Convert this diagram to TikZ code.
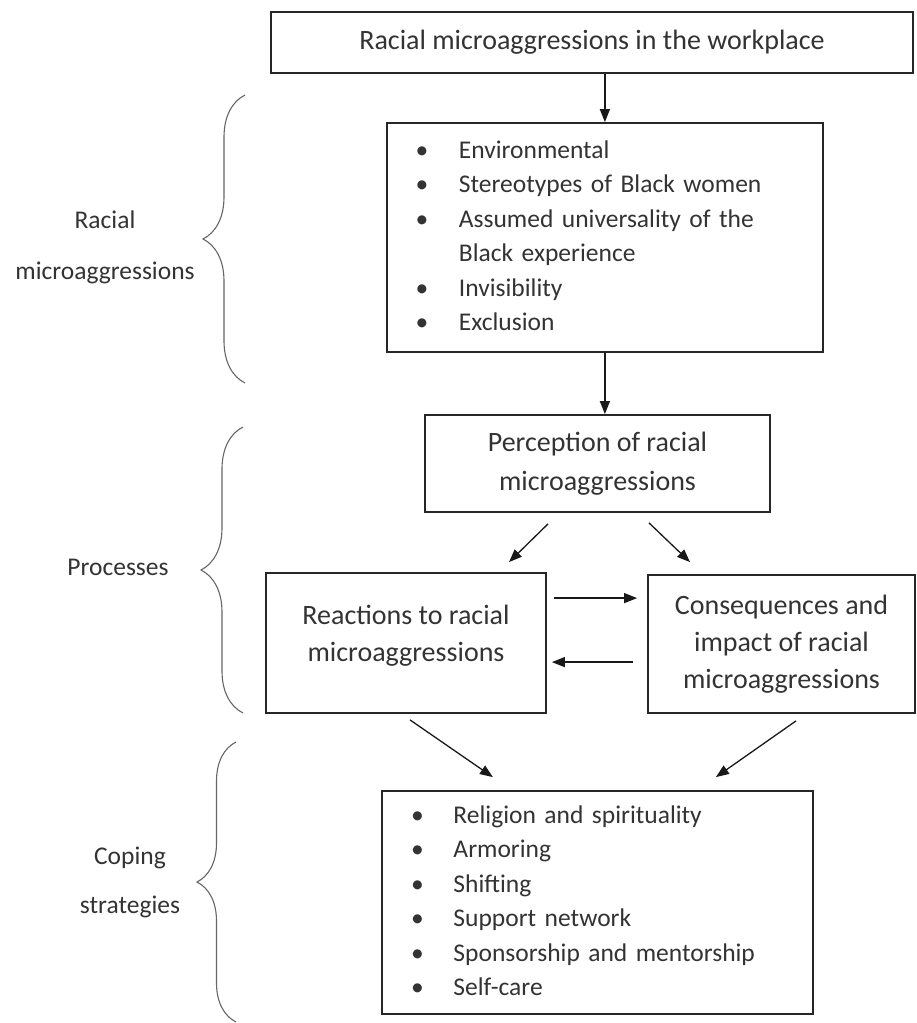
\documentclass[tikz,border=0pt]{standalone}
\usepackage{fontspec}
\setmainfont{Carlito}
\usepackage{array}
\usetikzlibrary{calc,arrows.meta,decorations.pathreplacing}

\begin{document}
\begin{tikzpicture}[x=1pt,y=-1pt,
		box/.style={draw=black!85, line width=1.8pt, text=black!80, inner sep=0pt},
		listbox/.style={box, anchor=west, align=left, font=\fontsize{25.5}{34.5}\selectfont},
		arr/.style={-{Triangle[length=13pt,width=10pt]}, line width=1.3pt, black!90},
		brc/.style={decorate, decoration={brace, amplitude=#1}, draw=black!60, line width=1.1pt},
		lbl/.style={text=black!80, align=center, font=\fontsize{25.5}{51}\selectfont}]
			\useasboundingbox (0,0) rectangle (916,1023);
			% boxes
			\node[box, minimum width=642pt, minimum height=61pt, font=\fontsize{28}{34}\selectfont] (title) at (592,42.5)
			{Racial microaggressions in the workplace};
			\node[listbox, minimum height=229pt, inner xsep=28.6pt, text width=378.8pt] (types) at (386,237.5)
			{
				\begin{tabular}{@{}p{43.4pt}@{}l@{}}
					\textbullet & Environmental \\
					\textbullet & Stereotypes of Black women \\
					\textbullet & Assumed universality of the \\
					& Black experience \\
					\textbullet & Invisibility \\
					\textbullet & Exclusion \\
				\end{tabular}
			};
			\node[box, minimum width=345pt, minimum height=97pt, align=center, font=\fontsize{28}{39}\selectfont] (percep) at (597.5,463.5)
			{Perception of racial\\microaggressions};
			\node[box, minimum width=280pt, minimum height=140pt, align=center, text depth=20pt, font=\fontsize{28}{37}\selectfont] (react) at (406,643)
			{Reactions to racial\\microaggressions};
			\node[box, minimum width=267pt, minimum height=138pt, align=center, font=\fontsize{28}{37}\selectfont] (conseq) at (781.5,644)
			{Consequences and\\impact of racial\\microaggressions};
			\node[listbox, minimum height=223pt, inner xsep=29.1pt, text width=372.8pt] (cope) at (381,902.5)
			{
				\begin{tabular}{@{}p{42.5pt}@{}l@{}}
					\textbullet & Religion and spirituality \\
					\textbullet & Armoring \\
					\textbullet & Shifting \\
					\textbullet & Support network \\
					\textbullet & Sponsorship and mentorship \\
					\textbullet & Self-care \\
				\end{tabular}
			};
			% side labels and braces
			\node[lbl] (lblracial) at (105,247) {Racial\\microaggressions};
			\node[lbl] (lblproc) at (118,567) {Processes};
			\node[lbl, font=\fontsize{25.5}{49}\selectfont] (lblcope) at (130,882) {Coping\\strategies};
			\draw[brc=42pt] (245,383) -- (245,95);
			\draw[brc=42pt] (243,713) -- (243,427);
			\draw[brc=39pt] (236,1022) -- (236,742);
			% arrows
			\draw[arr] (types.north |- title.south) -- (types.north);
			\draw[arr] (types.south) -- (types.south |- percep.north);
			\draw[arr] ($(percep.south)+(-49.5,11)$) -- ($(react.north)+(103,-10)$);
			\draw[arr] ($(percep.south)+(51.5,10)$) -- ($(conseq.north)+(-91.5,-12)$);
			\draw[arr] ($(react.north east)+(7,26)$) -- ($(conseq.north west)+(-10,24)$);
			\draw[arr] ($(conseq.north west)+(-14,88)$) -- ($(react.north east)+(5,90)$);
			\draw[arr] ($(react.south)+(4,6)$) -- ($(cope.north)+(-104.5,-13)$);
			\draw[arr] ($(conseq.south)+(14.5,7)$) -- ($(cope.north)+(118.5,-13)$);
		\end{tikzpicture}
\end{document}
